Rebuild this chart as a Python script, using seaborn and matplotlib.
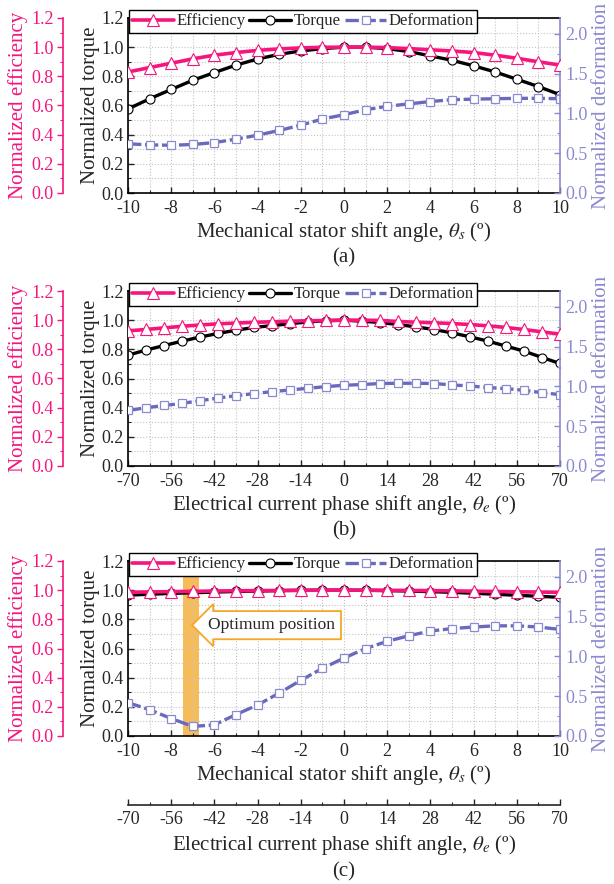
import seaborn as sns
import matplotlib.pyplot as plt
from matplotlib.ticker import MultipleLocator

# x positions
mech_angle = [-10, -9, -8, -7, -6, -5, -4, -3, -2, -1, 0, 1, 2, 3, 4, 5, 6, 7, 8, 9, 10]
elec_angle = [-70, -64.2, -58.3, -52.5, -46.7, -40.8, -35, -29.2, -23.3, -17.5, -11.7, -5.8, 0,
              5.8, 11.7, 17.5, 23.3, 29.2, 35, 40.8, 46.7, 52.5, 58.3, 64.2, 70]

# (a) mechanical stator shift
eff_a = [0.83, 0.86, 0.89, 0.92, 0.945, 0.963, 0.978, 0.988, 0.995, 0.999, 1.0,
         1.0, 0.997, 0.99, 0.982, 0.974, 0.963, 0.945, 0.924, 0.90, 0.877]
torque_a = [0.576, 0.646, 0.71, 0.773, 0.826, 0.877, 0.919, 0.951, 0.974, 0.99, 1.0,
            1.0, 0.99, 0.97, 0.94, 0.91, 0.872, 0.83, 0.78, 0.73, 0.674]
deform_a = [0.618, 0.605, 0.60, 0.61, 0.634, 0.677, 0.727, 0.786, 0.853, 0.93, 0.984,
            1.047, 1.09, 1.12, 1.15, 1.173, 1.18, 1.185, 1.19, 1.19, 1.185]

# (b) electrical current phase shift
eff_b = [0.927, 0.936, 0.947, 0.958, 0.967, 0.975, 0.980, 0.985, 0.989, 0.993, 0.996, 0.998, 1.0,
         1.0, 0.998, 0.991, 0.986, 0.982, 0.977, 0.970, 0.961, 0.950, 0.936, 0.920, 0.904]
torque_b = [0.760, 0.795, 0.826, 0.856, 0.884, 0.909, 0.931, 0.950, 0.963, 0.975, 0.989, 0.996, 1.0,
            0.993, 0.984, 0.970, 0.954, 0.936, 0.913, 0.886, 0.856, 0.822, 0.788, 0.744, 0.703]
deform_b = [0.698, 0.732, 0.761, 0.787, 0.821, 0.854, 0.884, 0.910, 0.935, 0.956, 0.977, 0.998, 1.015,
            1.024, 1.037, 1.040, 1.040, 1.037, 1.019, 1.006, 0.986, 0.973, 0.952, 0.922, 0.897]

# (c) combined shift
eff_c = [0.985, 0.988, 0.99, 0.992, 0.994, 0.996, 0.997, 0.998, 0.999, 1.0, 1.0,
         1.0, 0.999, 0.998, 0.997, 0.995, 0.993, 0.991, 0.989, 0.987, 0.985]
torque_c = [0.966, 0.972, 0.978, 0.982, 0.987, 0.991, 0.994, 0.997, 0.999, 1.0, 1.0,
            0.999, 0.997, 0.994, 0.99, 0.985, 0.979, 0.972, 0.965, 0.958, 0.951]
deform_c = [0.42, 0.33, 0.22, 0.12, 0.14, 0.27, 0.39, 0.54, 0.70, 0.85, 0.98,
            1.10, 1.19, 1.26, 1.32, 1.35, 1.37, 1.385, 1.385, 1.37, 1.34]

optimum_span = (-7.45, -6.7)
elec_ticks = [-70, -56, -42, -28, -14, 0, 14, 28, 42, 56, 70]

PINK = "#F5157C"
BLUE = "#6A6ABD"
BLUE_LIGHT = "#8A8AD0"
TICK_FS = 13

sns.set_style("white")
plt.rcParams["font.family"] = ["Liberation Serif", "DejaVu Serif"]
plt.rcParams["mathtext.fontset"] = "stix"
plt.rcParams["axes.unicode_minus"] = False

fig = plt.figure(figsize=(6.14, 8.84), dpi=100)

LEFT, WIDTH, HEIGHT = 128 / 614, 432 / 614, 175 / 884


def draw_panel(bottom_px, x, eff, torque, deform, xlim, major, minor, xlabel):
    ax = fig.add_axes([LEFT, 1 - bottom_px / 884, WIDTH, HEIGHT])
    ax_def = ax.twinx()
    ax_eff = ax.twinx()

    sns.lineplot(x=x, y=torque, ax=ax, color="black", lw=2.4, marker="o", ms=6.5,
                 mfc="white", mec="black", mew=0.8, label="Torque", legend=False, errorbar=None)
    sns.lineplot(x=x, y=deform, ax=ax_def, color=BLUE, lw=2.4, ls=(0, (4, 1.1)), marker="s", ms=6,
                 mfc="white", mec=BLUE_LIGHT, mew=0.9, label="Deformation", legend=False, errorbar=None)
    sns.lineplot(x=x, y=eff, ax=ax_eff, color=PINK, lw=2.6, marker="^", ms=8,
                 mfc="white", mec=PINK, mew=0.8, label="Efficiency", legend=False, errorbar=None)

    # host: torque
    ax.set_xlim(*xlim)
    ax.set_ylim(0, 1.2)
    ax.xaxis.set_major_locator(MultipleLocator(major))
    ax.xaxis.set_minor_locator(MultipleLocator(minor))
    ax.yaxis.set_major_locator(MultipleLocator(0.2))
    ax.yaxis.set_minor_locator(MultipleLocator(0.1))
    ax.yaxis.set_major_formatter("{x:.1f}")
    ax.tick_params(which="both", direction="in", labelsize=TICK_FS, bottom=True, left=True)
    ax.tick_params(axis="x", pad=5)
    ax.tick_params(axis="y", pad=3)
    ax.tick_params(which="major", length=4.5, width=1)
    ax.tick_params(which="minor", length=2.5, width=0.8)
    ax.grid(which="both", ls=":", color="#C4C4C4", lw=0.8)
    for s in ["left", "bottom", "top"]:
        ax.spines[s].set_color("black")
        ax.spines[s].set_linewidth(1.2)
    ax.spines["right"].set_visible(False)
    ax.set_ylabel("Normalized torque", fontsize=15, labelpad=1)
    ax.set_xlabel(xlabel, fontsize=15, labelpad=2)

    # right: deformation
    ax_def.set_ylim(0, 2.2)
    ax_def.yaxis.set_major_locator(MultipleLocator(0.5))
    ax_def.yaxis.set_minor_locator(MultipleLocator(0.25))
    ax_def.yaxis.set_major_formatter("{x:.1f}")
    ax_def.tick_params(axis="y", which="both", direction="in", colors=BLUE_LIGHT,
                       labelsize=TICK_FS, right=True, pad=4)
    ax_def.tick_params(axis="y", which="major", length=4.5, width=1)
    ax_def.tick_params(axis="y", which="minor", length=2.5, width=0.8)
    for s in ["left", "top", "bottom"]:
        ax_def.spines[s].set_visible(False)
    ax_def.spines["right"].set_color(BLUE_LIGHT)
    ax_def.spines["right"].set_linewidth(1.2)
    ax_def.set_ylabel("Normalized deformation", fontsize=15, color=BLUE_LIGHT, labelpad=3)

    # offset left: efficiency
    ax_eff.set_ylim(0, 1.2)
    ax_eff.yaxis.set_ticks_position("left")
    ax_eff.yaxis.set_label_position("left")
    ax_eff.spines["left"].set_position(("outward", 47))
    ax_eff.spines["left"].set_visible(True)
    ax_eff.spines["left"].set_color(PINK)
    ax_eff.spines["left"].set_linewidth(1.2)
    for s in ["right", "top", "bottom"]:
        ax_eff.spines[s].set_visible(False)
    ax_eff.yaxis.set_major_locator(MultipleLocator(0.2))
    ax_eff.yaxis.set_minor_locator(MultipleLocator(0.1))
    ax_eff.yaxis.set_major_formatter("{x:.1f}")
    ax_eff.tick_params(axis="y", which="both", direction="out", colors=PINK,
                       labelsize=TICK_FS, left=True, right=False, pad=2)
    ax_eff.tick_params(axis="y", which="major", length=4.5, width=1)
    ax_eff.tick_params(axis="y", which="minor", length=2.5, width=0.8)
    ax_eff.set_ylabel("Normalized efficiency", fontsize=15, color=PINK, labelpad=2)

    handles = ax_eff.get_lines()[:1] + ax.get_lines()[:1] + ax_def.get_lines()[:1]
    leg = ax_eff.legend(handles=handles, labels=["Efficiency", "Torque", "Deformation"],
                        loc="center", bbox_to_anchor=(0.405, 0.98), ncol=3, fontsize=12,
                        frameon=True, fancybox=False, framealpha=1, edgecolor="black",
                        handlelength=2.5, handletextpad=0.15, columnspacing=0.25,
                        borderpad=0.2, borderaxespad=0)
    leg.get_frame().set_linewidth(1.0)
    return ax


ax_a = draw_panel(193, mech_angle, eff_a, torque_a, deform_a, (-10, 10), 2, 1,
                  r"Mechanical stator shift angle, $\theta_s$ (º)")
ax_b = draw_panel(466, elec_angle, eff_b, torque_b, deform_b, (-70, 70), 14, 7,
                  r"Electrical current phase shift angle, $\theta_e$ (º)")
ax_c = draw_panel(736, mech_angle, eff_c, torque_c, deform_c, (-10, 10), 2, 1,
                  r"Mechanical stator shift angle, $\theta_s$ (º)")

# optimum position band and arrow label
ax_c.axvspan(*optimum_span, color="#F5A623", alpha=0.75, lw=0, zorder=0.5)
ax_c.annotate("Optimum position", xy=(-6.3, 0.76), xytext=(-6.3, 0.76), fontsize=12.5,
              ha="left", va="center",
              bbox=dict(boxstyle="larrow,pad=0.35", fc="white", ec="#F5A623", lw=1.3), zorder=6)

# second x-axis for (c)
sec = ax_c.secondary_xaxis(-0.394, functions=(lambda v: v * 7, lambda v: v / 7))
sec.set_xticks(elec_ticks)
sec.xaxis.set_minor_locator(MultipleLocator(7))
sec.tick_params(which="both", direction="in", labelsize=TICK_FS, pad=4)
sec.tick_params(which="major", length=4.5, width=1)
sec.tick_params(which="minor", length=2.5, width=0.8)
sec.spines["bottom"].set_linewidth(1.2)
sec.set_xlabel(r"Electrical current phase shift angle, $\theta_e$ (º)", fontsize=15, labelpad=4)

for label, y_px in [("(a)", 258), ("(b)", 531), ("(c)", 872)]:
    fig.text(LEFT + WIDTH / 2, 1 - y_px / 884, label, ha="center", va="center", fontsize=15)

fig.savefig("out.png", dpi=100)
